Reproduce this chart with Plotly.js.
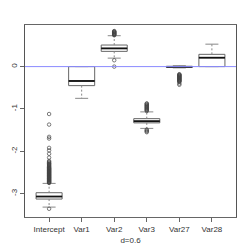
<!DOCTYPE html>
<html>
<head>
<meta charset="utf-8">
<script src="https://cdn.plot.ly/plotly-3.0.1.min.js"></script>
<style>html,body{margin:0;padding:0;background:#fff;}#chart{width:249px;height:249px;}</style>
</head>
<body>
<div id="chart"></div>
<script>
// ---- data ----
const categories = ["Intercept", "Var1", "Var2", "Var3", "Var27", "Var28"];
const q1Vals      = [-3.13, -0.45, 0.36, -1.33, -0.015, 0.00];
const medianVals  = [-3.07, -0.34, 0.43, -1.29, -0.005, 0.21];
const q3Vals      = [-2.98,  0.00, 0.51, -1.23,  0.005, 0.29];
const lowerWhisk  = [-3.32, -0.75, 0.20, -1.46, -0.03, 0.00];
const upperWhisk  = [-2.76,  0.00, 0.73, -1.07,  0.02, 0.53];
const outliersIntercept = [-3.36, -2.75, -2.74, -2.73, -2.72, -2.71, -2.70, -2.69, -2.68, -2.67, -2.66, -2.65,
  -2.64, -2.63, -2.62, -2.61, -2.60, -2.59, -2.58, -2.57, -2.56, -2.55, -2.54, -2.53, -2.52, -2.51, -2.50,
  -2.49, -2.48, -2.47, -2.46, -2.45, -2.44, -2.43, -2.42, -2.41, -2.40, -2.39, -2.38, -2.36, -2.35, -2.33,
  -2.32, -2.30, -2.29, -2.27, -2.25, -2.23, -2.15, -2.06, -1.98, -1.92, -1.70, -1.66, -1.37, -1.12];
const outliersVar1 = [];
const outliersVar2 = [0.84, 0.83, 0.82, 0.81, 0.80, 0.79, 0.78, 0.77, 0.76, 0.75, 0.74, 0.15, 0.00];
const outliersVar3 = [-0.87, -0.88, -0.90, -0.91, -0.93, -0.94, -0.96, -0.97, -0.99, -1.00, -1.02, -1.03, -1.05,
  -1.49, -1.51, -1.53, -1.55];
const outliersVar27 = [-0.18, -0.19, -0.20, -0.21, -0.22, -0.23, -0.24, -0.25, -0.26, -0.27, -0.28, -0.29, -0.30,
  -0.31, -0.32, -0.33, -0.34, -0.35, -0.36, -0.40, -0.43];
const outliersVar28 = [];
const outlierSets = [outliersIntercept, outliersVar1, outliersVar2, outliersVar3, outliersVar27, outliersVar28];
const xTitle = "d=0.6";
const yTickVals = [-3, -2, -1, 0];

// ---- build traces ----
const boxHalf = 0.4, stapleHalf = 0.2;
const traces = [];
const pos = categories.map((c, i) => i + 1);

categories.forEach((c, i) => {
  traces.push({
    type: "box", x: [pos[i]], q1: [q1Vals[i]], median: [medianVals[i]], q3: [q3Vals[i]],
    lowerfence: [q1Vals[i]], upperfence: [q3Vals[i]],
    width: 2 * boxHalf, whiskerwidth: 0, boxpoints: false,
    fillcolor: "rgba(255,255,255,0)",
    line: {color: "#666", width: 1}, hoverinfo: "skip", showlegend: false
  });
});

// whiskers (dashed)
const wx = [], wy = [];
categories.forEach((c, i) => {
  wx.push(pos[i], pos[i], null, pos[i], pos[i], null);
  wy.push(q3Vals[i], upperWhisk[i], null, q1Vals[i], lowerWhisk[i], null);
});
traces.push({type: "scatter", mode: "lines", x: wx, y: wy, line: {color: "#888", width: 1, dash: "2px,2px"}, showlegend: false, hoverinfo: "skip"});

// staples
const sx = [], sy = [];
categories.forEach((c, i) => {
  sx.push(pos[i] - stapleHalf, pos[i] + stapleHalf, null, pos[i] - stapleHalf, pos[i] + stapleHalf, null);
  sy.push(upperWhisk[i], upperWhisk[i], null, lowerWhisk[i], lowerWhisk[i], null);
});
traces.push({type: "scatter", mode: "lines", x: sx, y: sy, line: {color: "#888", width: 1}, showlegend: false, hoverinfo: "skip"});

// medians (thick)
const mx = [], my = [];
categories.forEach((c, i) => {
  mx.push(pos[i] - boxHalf, pos[i] + boxHalf, null);
  my.push(medianVals[i], medianVals[i], null);
});
traces.push({type: "scatter", mode: "lines", x: mx, y: my, line: {color: "#111", width: 1.8}, showlegend: false, hoverinfo: "skip"});

// outliers
const ox = [], oy = [];
outlierSets.forEach((arr, i) => arr.forEach(v => { ox.push(pos[i]); oy.push(v); }));
traces.push({type: "scatter", mode: "markers", x: ox, y: oy,
  marker: {symbol: "circle-open", size: 3.5, color: "#444", line: {width: 0.7, color: "#444"}},
  showlegend: false, hoverinfo: "skip"});

const font = {family: "Liberation Sans, Arial, sans-serif", size: 8, color: "#333"};
const layout = {
  width: 249, height: 249,
  margin: {l: 25, r: 13, t: 25, b: 32},
  paper_bgcolor: "#fff", plot_bgcolor: "#fff",
  font: font,
  showlegend: false,
  xaxis: {
    range: [0.26, 6.74], tickvals: pos, ticktext: categories,
    showgrid: false, zeroline: false, showline: true, mirror: true, linecolor: "#666", linewidth: 1,
    ticks: "outside", ticklen: 4, tickcolor: "#666", tickfont: font,
    title: {text: xTitle, font: font, standoff: 4}
  },
  yaxis: {
    range: [-3.554, 0.983], tickvals: yTickVals, ticktext: yTickVals.map(String),
    showgrid: false, zeroline: false, showline: true, mirror: true, linecolor: "#555", linewidth: 1,
    ticks: "outside", ticklen: 4, tickcolor: "#666", tickfont: font, tickangle: -90
  },
  shapes: [{type: "line", xref: "paper", x0: 0, x1: 1, yref: "y", y0: 0, y1: 0, line: {color: "#8a8aff", width: 1}}]
};
Plotly.newPlot("chart", traces, layout, {displayModeBar: false, staticPlot: true});
</script>
</body>
</html>
